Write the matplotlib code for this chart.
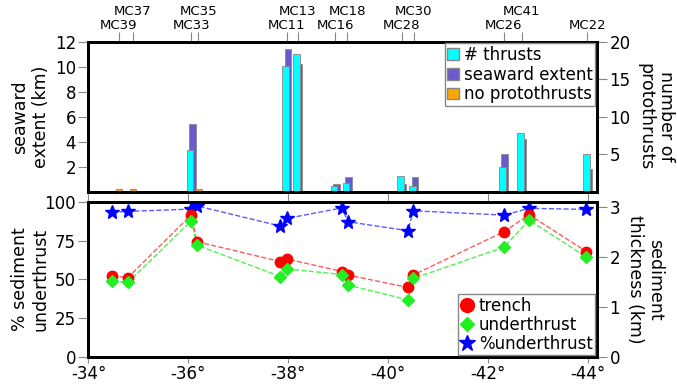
import numpy as np
import matplotlib.pyplot as plt
from matplotlib.patches import Patch
from matplotlib.lines import Line2D

# seismic lines (top axis labels)
site_names = ['MC39', 'MC37', 'MC33', 'MC35', 'MC11', 'MC13', 'MC16',
              'MC18', 'MC28', 'MC30', 'MC26', 'MC41', 'MC22']
site_lat = [-34.61, -34.89, -36.06, -36.20, -37.97, -38.19, -38.94,
            -39.18, -40.27, -40.51, -42.31, -42.67, -43.99]
upper_row = ['MC37', 'MC35', 'MC13', 'MC18', 'MC30', 'MC41']

# top panel
n_thrusts = [0, 0, 5.5, 0, 16.8, 18.4, 0.8, 1.1, 2.15, 0.8, 3.3, 7.8, 5.0]
seaward_km = [0, 0, 5.4, 0, 11.4, 10.2, 0.6, 1.15, 0.6, 1.15, 3.0, 4.2, 1.8]
no_proto = [0.4, 0.4, 0, 0.4, 0, 0, 0, 0, 0, 0, 0, 0, 0]

# bottom panel
prof_lat = [-34.475, -34.79, -36.06, -36.17, -37.84, -37.98, -39.08,
            -39.19, -40.40, -40.50, -42.32, -42.82, -43.97]
trench_km = [1.62, 1.59, 2.85, 2.31, 1.91, 1.96, 1.71, 1.64, 1.39, 1.64, 2.51, 2.85, 2.11]
under_km = [1.52, 1.49, 2.73, 2.24, 1.61, 1.76, 1.65, 1.44, 1.14, 1.57, 2.20, 2.74, 2.00]
pct_under = [93.5, 94.1, 95.6, 97.7, 84.6, 89.6, 96.4, 87.4, 81.6, 94.5, 91.7, 96.1, 95.4]

lat_ticks = [-34, -36, -38, -40, -42, -44]

fig = plt.figure(figsize=(6.77, 3.84), dpi=100)
ax1 = fig.add_axes([0.1307, 0.5008, 0.7511, 0.3906])
ax3 = fig.add_axes([0.1307, 0.0711, 0.7511, 0.4021])
ax2 = ax1.twinx()
ax4 = ax3.twinx()

lat = np.array(site_lat)
w = 0.135
off = 0.026
m = np.array(seaward_km) > 0
ax1.bar(lat[m] - off, np.array(seaward_km)[m], width=w, color='#6a5acd',
        edgecolor='#888888', linewidth=0.6)
m = np.array(n_thrusts) > 0
ax2.bar(lat[m] + off, np.array(n_thrusts)[m], width=w, color='#00ffff',
        edgecolor='#888888', linewidth=0.6)
m = np.array(no_proto) > 0
ax2.bar(lat[m], np.array(no_proto)[m], width=w, color='#ffa500',
        edgecolor='#888888', linewidth=0.6)

ax1.set_xlim(-34, -44.18)
ax1.set_ylim(0, 12)
ax2.set_ylim(0, 20)
ax1.set_yticks([2, 4, 6, 8, 10, 12])
ax2.set_yticks([5, 10, 15, 20])
ax1.set_xticks(lat_ticks)
ax1.set_xticklabels([])
ax1.set_ylabel('seaward\nextent (km)', fontsize=12.5)
ax1.yaxis.set_label_coords(-0.076, 0.5)
ax2.set_ylabel('number of\nprotothrusts', fontsize=12.5, rotation=270, labelpad=32)

# top axis with line names
sec = ax1.secondary_xaxis('top')
sec.set_xticks(site_lat)
sec.set_xticklabels(site_names, fontsize=9.5)
sec.tick_params(length=7, color='#888888', width=0.8)
for t, name in zip(sec.xaxis.get_major_ticks(), site_names):
    t.set_pad(9.8 if name in upper_row else 0.3)
sec.spines['top'].set_linewidth(2)

handles = [Patch(facecolor='#00ffff', edgecolor='#888888', label='# thrusts'),
           Patch(facecolor='#6a5acd', edgecolor='#888888', label='seaward extent'),
           Patch(facecolor='#ffa500', edgecolor='#888888', label='no protothrusts')]
leg = ax2.legend(handles=handles, loc='upper right', fontsize=12, handlelength=0.7,
                 handleheight=0.7, handletextpad=0.3, borderpad=0.15, labelspacing=0.1,
                 borderaxespad=0.1, fancybox=False, framealpha=1)
leg.get_frame().set_edgecolor('#888888')

# bottom panel
ax3.plot(prof_lat, pct_under, '--', color='#3333ff', alpha=0.8, lw=1)
ax3.plot(prof_lat, pct_under, '*', color='#0000ff', ms=10, ls='none')
ax4.plot(prof_lat, trench_km, '--', color='#ff3333', alpha=0.8, lw=1)
ax4.plot(prof_lat, under_km, '--', color='#22ee22', alpha=0.8, lw=1)
ax4.plot(prof_lat, trench_km, 'o', color='#ff0000', ms=7.5, ls='none')
ax4.plot(prof_lat, under_km, 'D', color='#22ee22', ms=6, ls='none')

ax3.set_xlim(-34, -44.18)
ax3.set_ylim(0, 100)
ax4.set_ylim(0, 3.1)
ax3.set_yticks([0, 25, 50, 75, 100])
ax4.set_yticks([0, 1, 2, 3])
ax3.set_xticks(lat_ticks)
ax3.set_xticklabels([f'{v}°' for v in lat_ticks])
ax3.set_ylabel('% sediment\nunderthrust', fontsize=12.5)
ax3.yaxis.set_label_coords(-0.076, 0.5)
ax4.set_ylabel('sediment\nthickness (km)', fontsize=12.5, rotation=270, labelpad=32)

handles = [Line2D([], [], marker='o', color='#ff0000', ls='none', ms=10, label='trench'),
           Line2D([], [], marker='D', color='#22ee22', ls='none', ms=7.5, label='underthrust'),
           Line2D([], [], marker='*', color='#0000ff', ls='none', ms=12, label='%underthrust')]
leg = ax4.legend(handles=handles, loc='lower right', fontsize=12, handlelength=0.8,
                 handletextpad=0.3, borderpad=0.15, labelspacing=0.05,
                 borderaxespad=0.1, fancybox=False, framealpha=1)
leg.get_frame().set_edgecolor('#888888')

for ax in (ax1, ax2, ax3, ax4):
    for s in ax.spines.values():
        s.set_linewidth(2)
    ax.tick_params(labelsize=12, color='#888888', width=0.8, length=7, pad=2)
ax1.tick_params(axis='x', length=7)
ax3.tick_params(axis='x', length=4, labelsize=12)

fig.savefig('out.png', dpi=100)
